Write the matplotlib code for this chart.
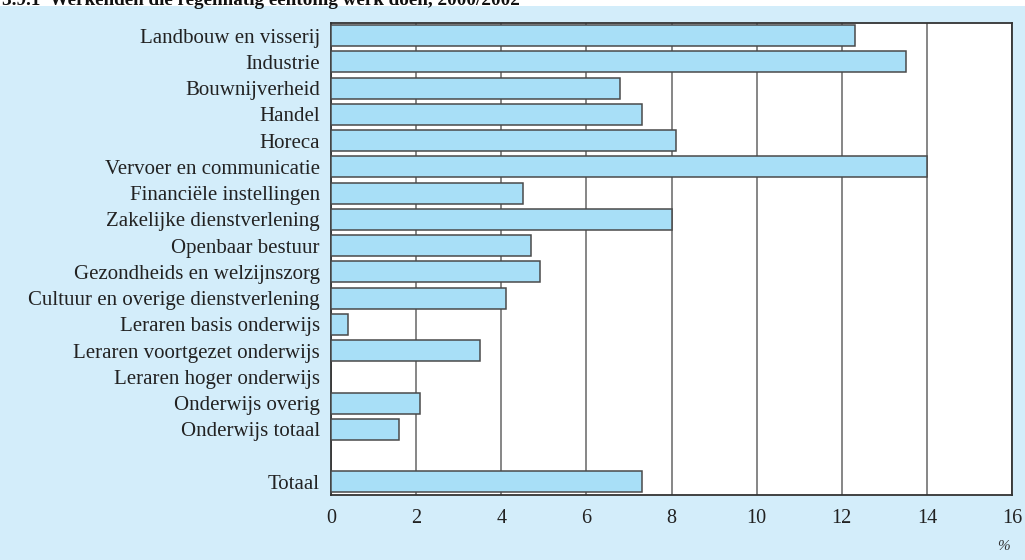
import matplotlib
matplotlib.use("Agg")
import matplotlib.pyplot as plt
from matplotlib.patches import Rectangle

categories = [
    "Landbouw en visserij", "Industrie", "Bouwnijverheid", "Handel", "Horeca",
    "Vervoer en communicatie", "Financiële instellingen", "Zakelijke dienstverlening",
    "Openbaar bestuur", "Gezondheids en welzijnszorg", "Cultuur en overige dienstverlening",
    "Leraren basis onderwijs", "Leraren voortgezet onderwijs", "Leraren hoger onderwijs",
    "Onderwijs overig", "Onderwijs totaal", "", "Totaal",
]
values = [12.3, 13.5, 6.8, 7.3, 8.1, 14.0, 4.5, 8.0, 4.7, 4.9, 4.1, 0.4, 3.5, 0.0,
          2.1, 1.6, None, 7.3]
xticks = [0, 2, 4, 6, 8, 10, 12, 14, 16]
title = "3.9.1  Werkenden die regelmatig eentonig werk doen, 2000/2002"

plt.rcParams['font.family'] = ['Liberation Serif', 'DejaVu Serif']

W, H = 1025, 560
fig = plt.figure(figsize=(W / 100, H / 100), dpi=100)
fig.patch.set_facecolor("white")
bg = Rectangle((0, 0), 1, 1 - 6 / H, transform=fig.transFigure,
               facecolor="#D3EDFA", edgecolor="none", zorder=-10)
fig.add_artist(bg)

left, right, top, bottom = 331, 1012, 23, 495
ax = fig.add_axes([left / W, 1 - bottom / H, (right - left) / W, (bottom - top) / H])
ax.set_zorder(5)
ax.set_facecolor("white")

ypos = list(range(len(categories)))
bar_y = [y for y, v in zip(ypos, values) if v is not None and v > 0]
bar_v = [v for v in values if v is not None and v > 0]
ax.barh(bar_y, bar_v, height=0.8, color="#A8DFF7", edgecolor="#4a4a4a",
        linewidth=1.1, zorder=3)

ax.set_ylim(17.5, -0.48)
ax.set_xlim(0, 16)
ax.set_yticks(ypos)
ax.set_yticklabels(categories, fontsize=15, color="#222222")
ax.set_xticks(xticks)
ax.set_xticklabels([str(t) for t in xticks], fontsize=14.5, color="#222222")
ax.tick_params(axis="both", length=0)
ax.tick_params(axis="y", pad=8)
ax.tick_params(axis="x", pad=10)
ax.grid(axis="x", color="#666666", linewidth=1.1, zorder=1)
ax.set_axisbelow(True)
for s in ax.spines.values():
    s.set_color("#333333")
    s.set_linewidth(1.3)

fig.text(1003 / W, 1 - 546 / H, "%", fontsize=11, style="italic", color="#333333",
         ha="center", va="center", zorder=6)
fig.text(2 / W, 1 - 5 / H, title, fontsize=13.8, fontweight="bold", color="#111111",
         ha="left", va="baseline", zorder=6)

fig.savefig("out.png", dpi=100, facecolor=fig.get_facecolor())
